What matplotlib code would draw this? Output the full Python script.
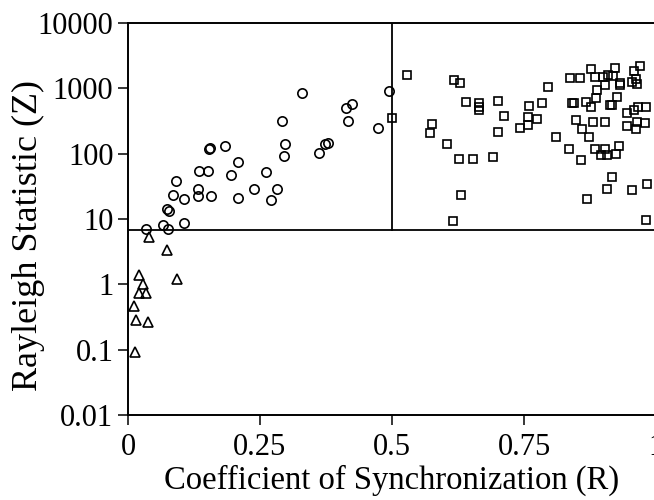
import matplotlib
matplotlib.use("Agg")
import matplotlib.pyplot as plt

plt.rcParams['font.family'] = ['Liberation Serif', 'DejaVu Serif']

# triangles (low Z)
tri_r = [0.040, 0.074, 0.021, 0.028, 0.021, 0.035, 0.092, 0.011, 0.015, 0.037, 0.014]
tri_z = [5.3, 3.4, 1.37, 1.02, 0.74, 0.74, 1.22, 0.47, 0.28, 0.265, 0.092]

# circles (R < 0.5)
circ_r = [0.035, 0.067, 0.075, 0.073, 0.078, 0.106, 0.085, 0.091, 0.106, 0.132,
          0.132, 0.134, 0.152, 0.157, 0.196, 0.208, 0.209, 0.153, 0.155, 0.184,
          0.239, 0.261, 0.270, 0.282, 0.291, 0.298, 0.295, 0.330, 0.361, 0.373,
          0.378, 0.413, 0.424, 0.417, 0.474, 0.494]
circ_z = [7.0, 8.1, 7.0, 14.1, 13.3, 8.8, 23.7, 38.4, 19.9, 29.1,
          22.2, 54, 54, 22.2, 47, 74, 21.3, 118, 121, 132,
          29.1, 52, 19.3, 29.1, 316, 142, 93, 857, 104, 139,
          144, 506, 569, 316, 247, 910]

# squares (R >= 0.5)
sq_r = [0.500, 0.529, 0.618, 0.629, 0.641, 0.665, 0.665, 0.665, 0.701, 0.713,
        0.701, 0.576, 0.572, 0.604, 0.627, 0.653, 0.691, 0.631, 0.616, 0.759,
        0.757, 0.757, 0.742, 0.774, 0.784, 0.795, 0.811, 0.835, 0.858, 0.849,
        0.860, 0.874, 0.881, 0.903, 0.837, 0.856, 0.876, 0.885, 0.900, 0.909,
        0.904, 0.889, 0.887, 0.840, 0.845, 0.868, 0.876, 0.912, 0.916, 0.927,
        0.922, 0.918, 0.932, 0.931, 0.955, 0.962, 0.964, 0.959, 0.969, 0.945,
        0.959, 0.966, 0.981, 0.946, 0.964, 0.962, 0.980, 0.884, 0.903, 0.929,
        0.896, 0.907, 0.924, 0.916, 0.908, 0.955, 0.983, 0.869, 0.981]
sq_z = [348, 1620, 1341, 1194, 624, 586, 518, 466, 647, 374,
        217, 284, 209, 142, 84, 84, 88, 22.9, 9.4, 542,
        368, 275, 249, 337, 603, 1047, 177, 116, 79, 327,
        238, 177, 307, 307, 1424, 1424, 1963, 1517, 1466, 1611,
        1112, 949, 719, 603, 603, 607, 524, 550, 550, 745,
        2028, 1556, 1206, 1136, 1263, 1400, 1153, 1841, 2173, 419,
        458, 514, 524, 268, 305, 238, 292, 117, 119, 130,
        97, 95, 98, 44, 29, 28, 34, 19.9, 9.5]

z_crit = 6.9
r_crit = 0.5

yticks = [0.01, 0.1, 1, 10, 100, 1000, 10000]
ytick_labels = ['0.01', '0.1', '1', '10', '100', '1000', '10000']
xticks = [0, 0.25, 0.5, 0.75, 1]
xtick_labels = ['0', '0.25', '0.5', '0.75', '1']

fig = plt.figure(figsize=(6.54, 5.0), dpi=100)
ax = fig.add_axes([128 / 654, 1 - 415 / 500, 528 / 654, 392 / 500])

mk = dict(linestyle='none', markerfacecolor='none', markeredgecolor='black',
          markeredgewidth=1.2, clip_on=False)
ax.plot(tri_r, tri_z, marker='^', markersize=6.5, **mk)
ax.plot(circ_r, circ_z, marker='o', markersize=6.7, **mk)
ax.plot(sq_r, sq_z, marker='s', markersize=6, **mk)

ax.axhline(z_crit, color='black', linewidth=1.3)
ax.plot([r_crit, r_crit], [z_crit, 10000], color='black', linewidth=1.3)

ax.set_yscale('log')
ax.set_xlim(0, 1)
ax.set_ylim(0.01, 10000)
ax.set_yticks(yticks)
ax.set_yticklabels(ytick_labels)
ax.minorticks_off()
ax.set_xticks(xticks)
ax.set_xticklabels(xtick_labels)

for s in ['left', 'bottom', 'top']:
    ax.spines[s].set_linewidth(1.4)
ax.spines['right'].set_visible(False)
ax.tick_params(direction='out', length=7, width=1.1, labelsize=22)
ax.tick_params(axis='y', pad=3.5)
ax.tick_params(axis='x', top=False, pad=6)

ax.set_xlabel('Coefficient of Synchronization (R)', fontsize=23.5, labelpad=2)
ax.set_ylabel('Rayleigh Statistic (Z)', fontsize=26)
ax.yaxis.set_label_coords(-0.157, 0.459)

fig.savefig('out.png', dpi=100)
